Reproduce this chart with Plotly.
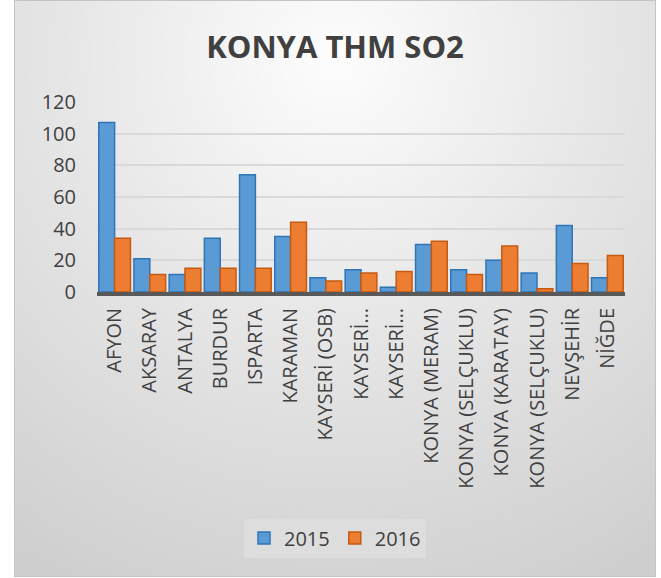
import base64
import plotly.graph_objects as go

categories = ["AFYON", "AKSARAY", "ANTALYA", "BURDUR", "ISPARTA", "KARAMAN",
              "KAYSERİ (OSB)", "KAYSERİ…", "KAYSERİ…", "KONYA (MERAM)",
              "KONYA (SELÇUKLU)", "KONYA (KARATAY)", "KONYA (SELÇUKLU)",
              "NEVŞEHİR", "NİĞDE"]
values_2015 = [107, 21, 11, 34, 74, 35, 9, 14, 3, 30, 14, 20, 12, 42, 9]
values_2016 = [34, 11, 15, 15, 15, 44, 7, 12, 13, 32, 11, 29, 2, 18, 23]
y_ticks = [0, 20, 40, 60, 80, 100, 120]

W, H = 661, 578
L, R, T, B = 97, 36, 102, 286
PW, PH = W - L - R, H - T - B

svg = f'''<svg xmlns="http://www.w3.org/2000/svg" width="{W}" height="{H}" viewBox="0 0 {W} {H}">
<defs><radialGradient id="g" gradientUnits="userSpaceOnUse" cx="335" cy="60" r="580">
<stop offset="0" stop-color="#fdfdfd"/><stop offset="0.45" stop-color="#e7e7e7"/><stop offset="1" stop-color="#cfcfcf"/>
</radialGradient></defs>
<rect x="0" y="0" width="{W}" height="{H}" fill="#ffffff"/>
<rect x="14.5" y="0.5" width="641" height="576" fill="url(#g)" stroke="#c4c4c4" stroke-width="1"/>
</svg>'''
uri = "data:image/svg+xml;base64," + base64.b64encode(svg.encode()).decode()

xs = list(range(len(categories)))
fig = go.Figure()
fig.add_trace(go.Bar(x=xs, y=values_2015, name="2015",
                     marker=dict(color="#5b9bd5", line=dict(color="#2e75b6", width=1.5))))
fig.add_trace(go.Bar(x=xs, y=values_2016, name="2016",
                     marker=dict(color="#ed7d31", line=dict(color="#c55a11", width=1.5))))

fig.update_layout(
    width=W, height=H,
    margin=dict(l=L, r=R, t=T, b=B, autoexpand=False),
    paper_bgcolor="#ffffff", plot_bgcolor="rgba(0,0,0,0)",
    font=dict(family="Open Sans", color="#404040"),
    title=dict(text="<b>KONYA THM SO2</b>", x=335 / W, xanchor="center",
               y=1 - 47 / H, yanchor="middle", yref="container",
               font=dict(family="Open Sans", size=31, color="#404040")),
    bargap=0.1, bargroupgap=0.0,
    images=[dict(source=uri, xref="paper", yref="paper", x=-L / PW, y=(PH + T) / PH,
                 sizex=W / PW, sizey=H / PH, sizing="stretch",
                 xanchor="left", yanchor="top", layer="below")],
    legend=dict(orientation="h", x=(335 - L) / PW, xanchor="center",
                y=(PH - (538 - T)) / PH, yanchor="middle",
                bgcolor="#dddddd", font=dict(size=20, color="#404040"),
                itemwidth=30, traceorder="normal"),
    showlegend=True,
)
fig.update_xaxes(tickvals=xs, ticktext=categories, tickangle=-90,
                 range=[-0.5, len(categories) - 0.5],
                 tickfont=dict(size=20, color="#404040"),
                 showline=True, linecolor="#595959", linewidth=4,
                 showgrid=False, ticks="", ticklabelstandoff=4)
fig.update_yaxes(range=[0, 120], tickvals=y_ticks,
                 tickfont=dict(size=20, color="#404040"),
                 showgrid=True, gridcolor="#d9d9d9", gridwidth=1.5,
                 zeroline=False, showline=False, ticks="", ticklabelstandoff=20)

fig.write_html("out.html", config={"displayModeBar": False},
               post_script="document.body.style.margin='0';document.body.style.overflow='hidden';")
